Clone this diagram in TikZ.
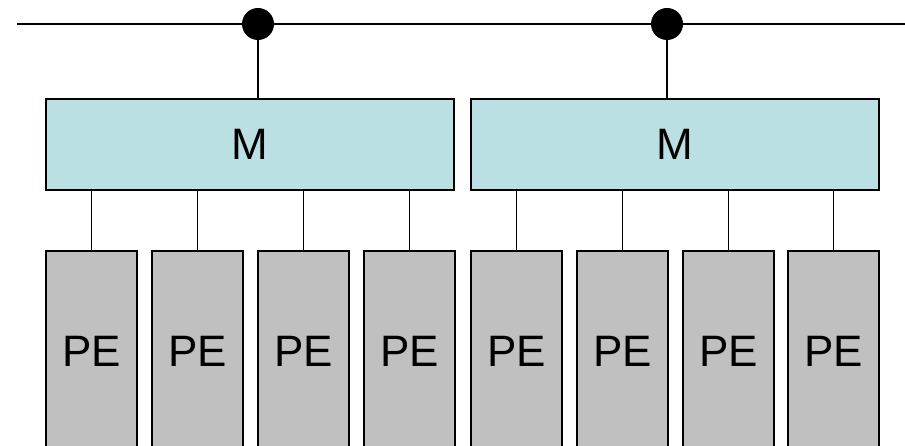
\documentclass[tikz,border=0pt]{standalone}
\usepackage{fontspec}
\setmainfont{Liberation Sans}
\definecolor{mfill}{HTML}{BBE0E3}
\definecolor{pefill}{HTML}{C0C0C0}
\begin{document}
\begin{tikzpicture}[x=1pt,y=-1pt,
  mbox/.style={draw=black,line width=1.5pt,fill=mfill,minimum width=408pt,minimum height=91pt,inner sep=0pt,font=\fontsize{44}{48}\selectfont},
  pebox/.style={draw=black,line width=1.5pt,fill=pefill,minimum width=91pt,minimum height=200pt,inner sep=0pt,font=\fontsize{44}{48}\selectfont},
  dotnode/.style={circle,fill=black,minimum size=32pt,inner sep=0pt},
  wire/.style={line width=1.5pt}]
\useasboundingbox (0,0) rectangle (905,446);
\clip (0,0) rectangle (905,446);
\coordinate (L) at (17,24);
\coordinate (R) at (906,24);
\draw[line width=2pt] (L) -- (R);
\node[dotnode] (d1) at (258,24) {};
\node[dotnode] (d2) at (667,24) {};
\node[mbox] (m1) at (250,144.5) {M};
\node[mbox] (m2) at (675,144.5) {M};
\draw[wire] (d1) -- (m1.north -| d1);
\draw[wire] (d2) -- (m2.north -| d2);
\foreach \i/\x in {1/91.5,2/197.5,3/303.5,4/409.5}{
  \node[pebox] (p\i) at (\x,351) {PE};
  \draw[wire] (m1.south -| p\i) -- (p\i.north);
}
\foreach \i/\x in {5/516.5,6/622.5,7/728.5,8/833.5}{
  \node[pebox] (p\i) at (\x,351) {PE};
  \draw[wire] (m2.south -| p\i) -- (p\i.north);
}
\end{tikzpicture}
\end{document}
